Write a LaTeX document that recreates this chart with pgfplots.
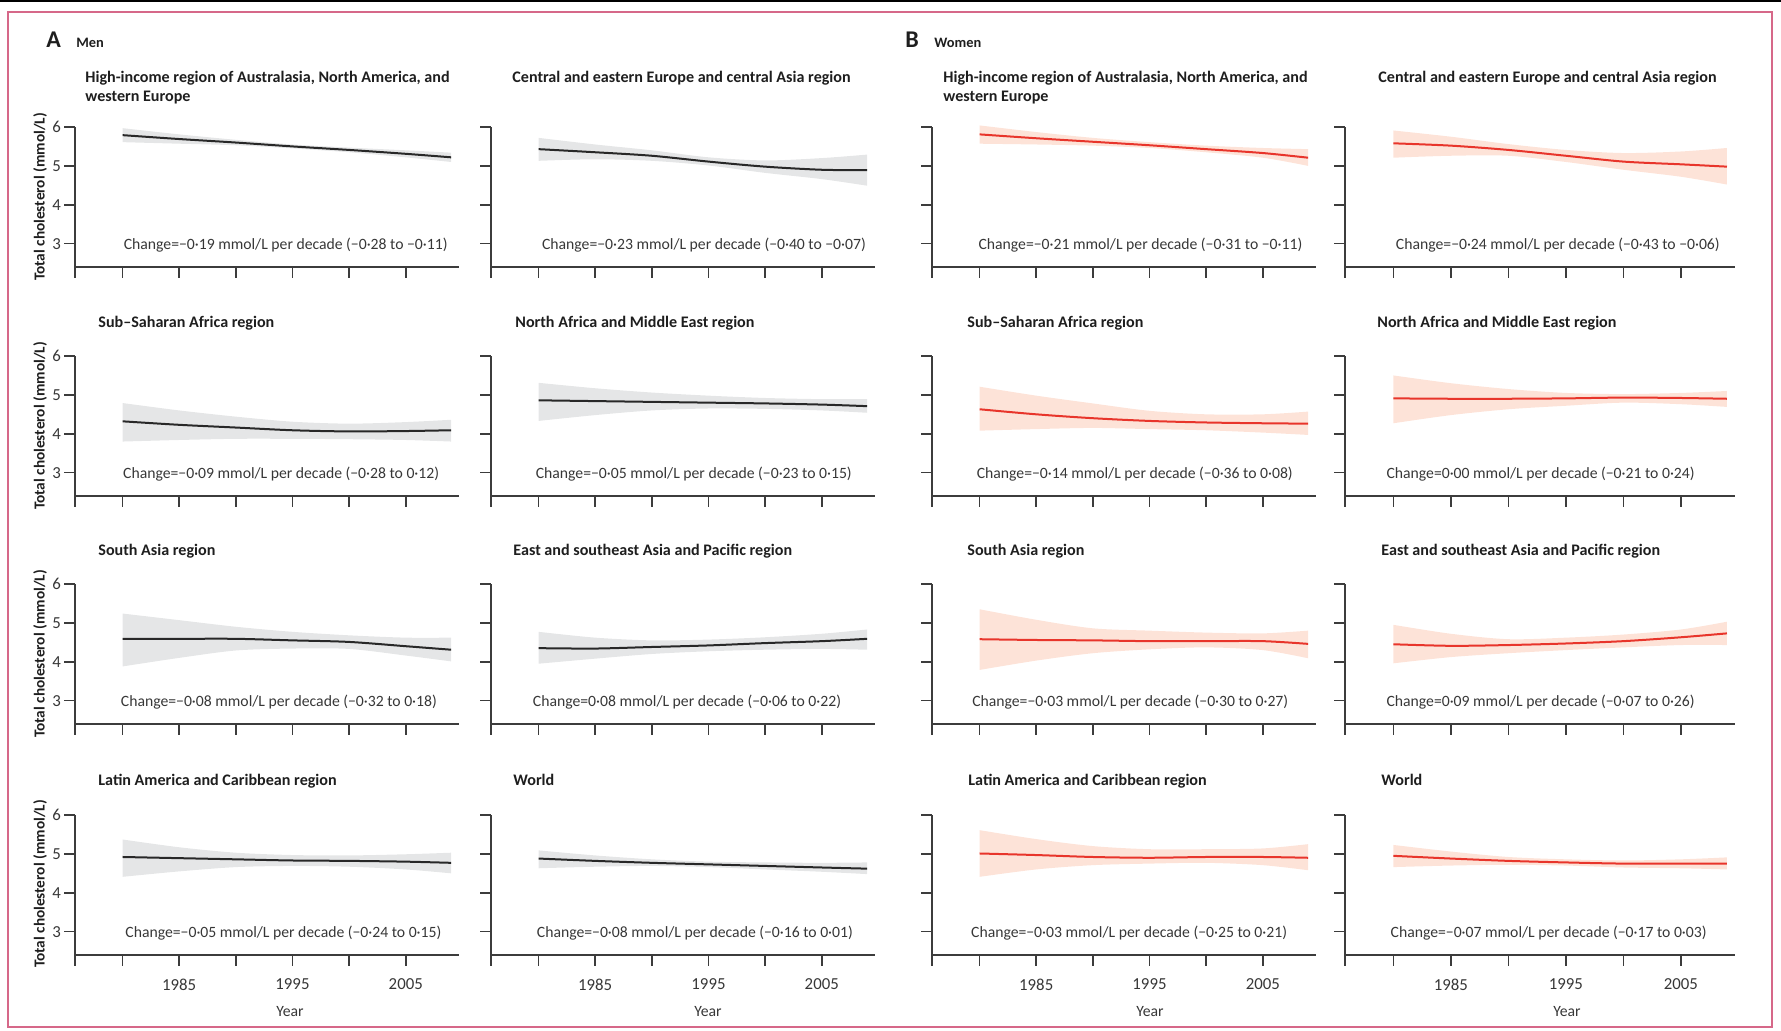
\documentclass[border=0pt]{standalone}
\usepackage{pgfplots}
\pgfplotsset{compat=1.18}
\usepgfplotslibrary{fillbetween}
\usepackage{pgfplotstable}
\usepackage{fontspec}
\setmainfont{Carlito}
\definecolor{axc}{RGB}{60,60,60}
\definecolor{txt}{RGB}{55,55,55}
\definecolor{ttl}{RGB}{30,30,30}
\definecolor{frame}{RGB}{214,104,137}
\definecolor{mline}{RGB}{40,40,40}
\definecolor{mband}{RGB}{229,230,231}
\definecolor{wline}{RGB}{232,53,43}
\definecolor{wband}{RGB}{253,227,216}

\newcommand{\fs}{\fontsize{7.85}{9}\selectfont}
\newcommand{\fk}{\fontsize{8.4}{9}\selectfont}
\newcommand{\ft}{\fontsize{8.05}{9.5}\selectfont\bfseries}

% year mean lo hi
\pgfplotstableread{
year mean lo hi
1980 5.79 5.61 5.97
1985 5.69 5.57 5.81
1990 5.60 5.53 5.67
1995 5.50 5.45 5.55
2000 5.41 5.35 5.47
2005 5.31 5.22 5.40
2009 5.22 5.10 5.34
}\tMa
\pgfplotstableread{
year mean lo hi
1980 5.43 5.13 5.72
1985 5.35 5.17 5.55
1990 5.26 5.13 5.40
1995 5.11 5.01 5.22
2000 4.98 4.82 5.14
2005 4.90 4.66 5.20
2009 4.89 4.49 5.29
}\tMb
\pgfplotstableread{
year mean lo hi
1980 4.32 3.80 4.79
1985 4.23 3.84 4.60
1990 4.16 3.87 4.44
1995 4.09 3.87 4.31
2000 4.06 3.86 4.26
2005 4.07 3.84 4.30
2009 4.09 3.80 4.36
}\tMc
\pgfplotstableread{
year mean lo hi
1980 4.86 4.33 5.31
1985 4.84 4.48 5.17
1990 4.82 4.60 5.06
1995 4.80 4.65 4.98
2000 4.78 4.64 4.92
2005 4.75 4.60 4.89
2009 4.71 4.54 4.89
}\tMd
\pgfplotstableread{
year mean lo hi
1980 4.59 3.88 5.24
1985 4.59 4.10 5.07
1990 4.59 4.29 4.90
1995 4.55 4.34 4.77
2000 4.51 4.33 4.68
2005 4.40 4.16 4.62
2009 4.31 4.01 4.62
}\tMe
\pgfplotstableread{
year mean lo hi
1980 4.35 3.95 4.77
1985 4.34 4.08 4.62
1990 4.38 4.20 4.55
1995 4.42 4.27 4.57
2000 4.48 4.31 4.63
2005 4.53 4.33 4.72
2009 4.59 4.31 4.83
}\tMf
\pgfplotstableread{
year mean lo hi
1980 4.92 4.41 5.37
1985 4.89 4.55 5.17
1990 4.86 4.66 5.03
1995 4.83 4.69 4.97
2000 4.82 4.67 4.96
2005 4.80 4.60 4.99
2009 4.77 4.50 5.03
}\tMg
\pgfplotstableread{
year mean lo hi
1980 4.88 4.63 5.09
1985 4.82 4.67 4.96
1990 4.77 4.69 4.86
1995 4.73 4.66 4.80
2000 4.69 4.60 4.78
2005 4.65 4.54 4.77
2009 4.62 4.48 4.78
}\tMh
\pgfplotstableread{
year mean lo hi
1980 5.81 5.57 6.04
1985 5.71 5.55 5.87
1990 5.62 5.52 5.72
1995 5.53 5.46 5.61
2000 5.43 5.35 5.52
2005 5.33 5.21 5.46
2009 5.21 5.00 5.43
}\tWa
\pgfplotstableread{
year mean lo hi
1980 5.58 5.21 5.91
1985 5.52 5.26 5.75
1990 5.41 5.26 5.56
1995 5.26 5.10 5.41
2000 5.11 4.90 5.33
2005 5.04 4.72 5.37
2009 4.98 4.52 5.46
}\tWb
\pgfplotstableread{
year mean lo hi
1980 4.63 4.08 5.21
1985 4.50 4.12 4.98
1990 4.40 4.15 4.78
1995 4.33 4.12 4.59
2000 4.29 4.09 4.50
2005 4.27 4.03 4.50
2009 4.26 3.97 4.57
}\tWc
\pgfplotstableread{
year mean lo hi
1980 4.91 4.27 5.50
1985 4.90 4.48 5.30
1990 4.90 4.63 5.15
1995 4.91 4.72 5.05
2000 4.93 4.80 5.02
2005 4.92 4.76 5.05
2009 4.90 4.69 5.10
}\tWd
\pgfplotstableread{
year mean lo hi
1980 4.58 3.79 5.35
1985 4.56 4.03 5.08
1990 4.55 4.22 4.86
1995 4.53 4.32 4.80
2000 4.53 4.37 4.75
2005 4.53 4.30 4.73
2009 4.46 4.09 4.80
}\tWe
\pgfplotstableread{
year mean lo hi
1980 4.45 3.96 4.95
1985 4.41 4.12 4.72
1990 4.43 4.22 4.58
1995 4.47 4.30 4.62
2000 4.53 4.37 4.70
2005 4.63 4.43 4.83
2009 4.73 4.43 5.03
}\tWf
\pgfplotstableread{
year mean lo hi
1980 5.01 4.41 5.61
1985 4.97 4.60 5.38
1990 4.92 4.71 5.20
1995 4.90 4.75 5.12
2000 4.92 4.77 5.12
2005 4.92 4.71 5.14
2009 4.90 4.58 5.25
}\tWg
\pgfplotstableread{
year mean lo hi
1980 4.95 4.66 5.23
1985 4.88 4.70 5.06
1990 4.82 4.72 4.92
1995 4.78 4.70 4.86
2000 4.75 4.65 4.83
2005 4.75 4.63 4.86
2009 4.75 4.60 4.91
}\tWh

\pgfplotsset{
  base/.style={
    scale only axis, height=70pt,
    anchor=south west,
    xmin=1975.8, xmax=2009.7, ymin=2.4, ymax=6,
    axis lines=left,
    axis line style={-, draw=axc, line width=0.75pt},
    tick align=outside, major tick length=5.5pt,
    every tick/.style={draw=axc, line width=0.75pt},
    xtick={1975.8,1980,1985,1990,1995,2000,2005},
    ytick={3,4,5,6},
    xticklabels={}, yticklabels={},
    clip=false,
    tick label style={font=\fk, text=txt},
    yticklabel style={xshift=2pt},
    xticklabel style={yshift=-3pt},
    /pgf/number format/assume math mode=true,
  },
  ylab/.style={yticklabels={3,4,5,6}},
  xlab/.style={xticklabels={,,1985,,1995,,2005}},
}

% #1 x, #2 y, #3 width, #4 table, #5 line colour, #6 band colour, #7 text x, #8 extra options, #9 text
\newcommand{\panel}[9]{%
\begin{axis}[base, at={(#1,#2)}, width=#3, #8]
  \addplot[name path=U, draw=none, smooth] table[x=year,y=hi]{#4};
  \addplot[name path=L, draw=none, smooth] table[x=year,y=lo]{#4};
  \addplot[fill=#6, draw=none] fill between[of=U and L];
  \addplot[draw=#5, line width=1pt, smooth] table[x=year,y=mean]{#4};
  \node[font=\fs, text=txt, inner sep=0pt] at (axis cs:#7,2.97) {#9};
\end{axis}}

\begin{document}
\begin{tikzpicture}
\path (0pt,0pt) rectangle (890.5pt,515.5pt);
\fill[black] (0pt,514.6pt) rectangle (890.5pt,515.5pt);
\draw[frame, line width=1pt] (4pt,509.5pt) rectangle (886pt,2pt);

% panel headers
\node[anchor=base west, inner sep=0pt, font=\fontsize{12}{14}\selectfont\bfseries, text=ttl] at (23pt,491.5pt) {A};
\node[anchor=base west, inner sep=0pt, font=\fontsize{7.2}{9}\selectfont\bfseries, text=ttl] at (38pt,491.5pt) {Men};
\node[anchor=base west, inner sep=0pt, font=\fontsize{12}{14}\selectfont\bfseries, text=ttl] at (452.5pt,491.5pt) {B};
\node[anchor=base west, inner sep=0pt, font=\fontsize{7.2}{9}\selectfont\bfseries, text=ttl] at (467pt,491.5pt) {Women};

% Row 1
\panel{37.5pt}{382pt}{192pt}{\tMa}{mline}{mband}{1994.4}{ylab}{Change=−0·19 mmol/L per decade (−0·28 to −0·11)}
\panel{245.5pt}{382pt}{192pt}{\tMb}{mline}{mband}{1994.6}{}{Change=−0·23 mmol/L per decade (−0·40 to −0·07)}
\panel{466pt}{382pt}{192pt}{\tWa}{wline}{wband}{1994.2}{}{Change=−0·21 mmol/L per decade (−0·31 to −0·11)}
\panel{672.5pt}{382pt}{195pt}{\tWb}{wline}{wband}{1994.3}{}{Change=−0·24 mmol/L per decade (−0·43 to −0·06)}
% Row 2
\panel{37.5pt}{267.5pt}{192pt}{\tMc}{mline}{mband}{1994.0}{ylab}{Change=−0·09 mmol/L per decade (−0·28 to 0·12)}
\panel{245.5pt}{267.5pt}{192pt}{\tMd}{mline}{mband}{1993.7}{}{Change=−0·05 mmol/L per decade (−0·23 to 0·15)}
\panel{466pt}{267.5pt}{192pt}{\tWc}{wline}{wband}{1993.7}{}{Change=−0·14 mmol/L per decade (−0·36 to 0·08)}
\panel{672.5pt}{267.5pt}{195pt}{\tWd}{wline}{wband}{1992.8}{}{Change=0·00 mmol/L per decade (−0·21 to 0·24)}
% Row 3
\panel{37.5pt}{153.5pt}{192pt}{\tMe}{mline}{mband}{1993.8}{ylab}{Change=−0·08 mmol/L per decade (−0·32 to 0·18)}
\panel{245.5pt}{153.5pt}{192pt}{\tMf}{mline}{mband}{1993.1}{}{Change=0·08 mmol/L per decade (−0·06 to 0·22)}
\panel{466pt}{153.5pt}{192pt}{\tWe}{wline}{wband}{1993.3}{}{Change=−0·03 mmol/L per decade (−0·30 to 0·27)}
\panel{672.5pt}{153.5pt}{195pt}{\tWf}{wline}{wband}{1992.8}{}{Change=0·09 mmol/L per decade (−0·07 to 0·26)}
% Row 4
\panel{37.5pt}{38pt}{192pt}{\tMg}{mline}{mband}{1994.2}{ylab,xlab}{Change=−0·05 mmol/L per decade (−0·24 to 0·15)}
\panel{245.5pt}{38pt}{192pt}{\tMh}{mline}{mband}{1993.8}{xlab}{Change=−0·08 mmol/L per decade (−0·16 to 0·01)}
\panel{466pt}{38pt}{192pt}{\tWg}{wline}{wband}{1993.2}{xlab}{Change=−0·03 mmol/L per decade (−0·25 to 0·21)}
\panel{672.5pt}{38pt}{195pt}{\tWh}{wline}{wband}{1993.5}{xlab}{Change=−0·07 mmol/L per decade (−0·17 to 0·03)}

% titles
\begin{scope}[every node/.style={anchor=base west, inner sep=0pt, font=\ft, text=ttl, align=left}]
\node at (42.5pt,474pt) {High-income region of Australasia, North America, and};
\node at (42.5pt,464.5pt) {western Europe};
\node at (256pt,474pt) {Central and eastern Europe and central Asia region};
\node at (471.5pt,474pt) {High-income region of Australasia, North America, and};
\node at (471.5pt,464.5pt) {western Europe};
\node at (689pt,474pt) {Central and eastern Europe and central Asia region};
\node at (49pt,351.5pt) {Sub–Saharan Africa region};
\node at (257.5pt,351.5pt) {North Africa and Middle East region};
\node at (483.5pt,351.5pt) {Sub–Saharan Africa region};
\node at (688.5pt,351.5pt) {North Africa and Middle East region};
\node at (49pt,237.5pt) {South Asia region};
\node at (256.5pt,237.5pt) {East and southeast Asia and Pacific region};
\node at (483.5pt,237.5pt) {South Asia region};
\node at (690.5pt,237.5pt) {East and southeast Asia and Pacific region};
\node at (49pt,122.5pt) {Latin America and Caribbean region};
\node at (256.5pt,122.5pt) {World};
\node at (484pt,122.5pt) {Latin America and Caribbean region};
\node at (690.5pt,122.5pt) {World};
\end{scope}

% y labels
\begin{scope}[every node/.style={rotate=90, inner sep=0pt, font=\fontsize{7.65}{8}\selectfont\bfseries, text=ttl}]
\node at (20pt,417pt) {Total cholesterol (mmol/L)};
\node at (20pt,302.5pt) {Total cholesterol (mmol/L)};
\node at (20pt,188.5pt) {Total cholesterol (mmol/L)};
\node at (20pt,73.5pt) {Total cholesterol (mmol/L)};
\end{scope}

% x labels
\begin{scope}[every node/.style={inner sep=0pt, font=\fs, text=txt}]
\node at (145pt,9.8pt) {Year};
\node at (354pt,9.8pt) {Year};
\node at (575pt,9.8pt) {Year};
\node at (783.5pt,9.8pt) {Year};
\end{scope}
\end{tikzpicture}
\end{document}
